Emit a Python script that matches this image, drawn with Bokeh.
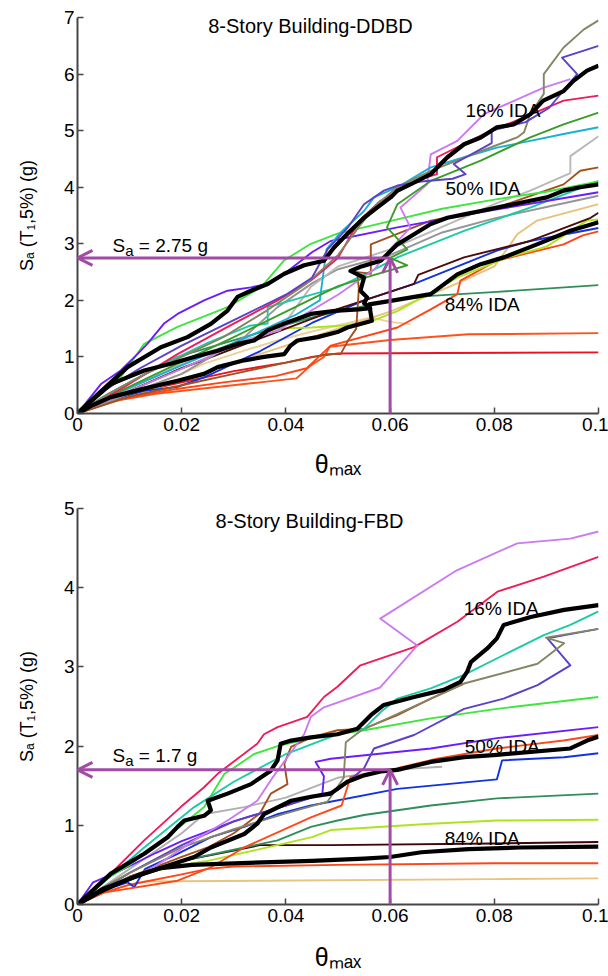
from bokeh.plotting import figure
from bokeh.models import Range1d, FixedTicker, CustomJSTickFormatter, Label, Arrow, OpenHead
from bokeh.layouts import column
from bokeh.embed import file_html
from bokeh.resources import INLINE

# ------------------------------------------------------------------ data
x_ticks = [0, 0.02, 0.04, 0.06, 0.08, 0.1]
ddbd_y_ticks = [0, 1, 2, 3, 4, 5, 6, 7]
fbd_y_ticks = [0, 1, 2, 3, 4, 5]
theta_target = 0.06
ddbd_sa_target = 2.75
fbd_sa_target = 1.7

# ---- 8-Story DDBD: individual IDA curves (theta_max, Sa)
ddbd_olive_x = [0, 0.006, 0.012, 0.02, 0.028, 0.036, 0.044, 0.05, 0.054, 0.0575, 0.0614, 0.0678, 0.0774, 0.0844, 0.0857, 0.0869, 0.0895, 0.0895, 0.0933, 0.0972, 0.1]
ddbd_olive_y = [0, 0.35, 0.65, 1.0, 1.35, 1.8, 2.3, 2.8, 3.3, 3.7, 4.0, 4.29, 4.64, 4.88, 4.97, 5.29, 5.65, 6.0, 6.47, 6.79, 6.95]
ddbd_slate_x = [0, 0.005, 0.012, 0.02, 0.03, 0.04, 0.045, 0.048, 0.052, 0.055, 0.0588, 0.0614, 0.066, 0.072, 0.0745, 0.0722, 0.0795, 0.0795, 0.086, 0.0905, 0.0959, 0.093, 0.1]
ddbd_slate_y = [0, 0.4, 0.8, 1.2, 1.65, 2.1, 2.4, 2.9, 3.3, 3.7, 3.94, 4.03, 4.1, 4.15, 4.23, 4.41, 4.78, 5.0, 5.15, 5.4, 6.0, 6.29, 6.5]
ddbd_crimson_x = [0, 0.004, 0.009, 0.0192, 0.0288, 0.0384, 0.0448, 0.05, 0.054, 0.058, 0.062, 0.066, 0.069, 0.069, 0.078, 0.0933, 0.1]
ddbd_crimson_y = [0, 0.2, 0.47, 1.05, 1.53, 2.0, 2.35, 2.75, 3.4, 3.75, 3.95, 4.15, 4.23, 4.53, 4.94, 5.53, 5.62]
ddbd_dkgreen_x = [0, 0.006, 0.014, 0.022, 0.03, 0.04, 0.05, 0.057, 0.0633, 0.06, 0.0633, 0.0594, 0.0614, 0.0678, 0.0774, 0.0869, 0.0933, 0.1]
ddbd_dkgreen_y = [0, 0.3, 0.65, 1.0, 1.35, 1.8, 2.25, 2.45, 2.62, 2.75, 2.9, 3.29, 3.7, 4.11, 4.47, 4.88, 5.11, 5.32]
ddbd_cyan_x = [0, 0.006, 0.015, 0.025, 0.035, 0.042, 0.0465, 0.0478, 0.0505, 0.055, 0.0569, 0.0614, 0.0678, 0.0742, 0.0805, 0.0869, 0.0933, 0.1]
ddbd_cyan_y = [0, 0.3, 0.65, 1.05, 1.45, 1.75, 2.0, 2.9, 3.2, 3.58, 3.82, 4.0, 4.35, 4.53, 4.7, 4.82, 4.94, 5.06]
ddbd_ltgrey_x = [0, 0.008, 0.016, 0.024, 0.032, 0.0388, 0.0447, 0.05, 0.06, 0.07, 0.08, 0.0869, 0.0946, 0.0946, 0.1]
ddbd_ltgrey_y = [0, 0.35, 0.7, 1.05, 1.3, 1.47, 2.23, 2.6, 2.9, 3.3, 3.7, 3.94, 4.25, 4.55, 4.9]
ddbd_brown_x = [0, 0.01, 0.02, 0.03, 0.04, 0.048, 0.0505, 0.052, 0.0535, 0.054, 0.0537, 0.0563, 0.0563, 0.0678, 0.0805, 0.0933, 0.0965, 0.1]
ddbd_brown_y = [0, 0.3, 0.5, 0.7, 0.9, 1.05, 1.05, 1.3, 1.5, 2.2, 2.5, 2.47, 2.99, 3.41, 3.64, 4.05, 4.29, 4.35]
ddbd_teal_x = [0, 0.008, 0.016, 0.025, 0.033, 0.0365, 0.0365, 0.0499, 0.055, 0.0614, 0.0742, 0.0869, 0.1]
ddbd_teal_y = [0, 0.45, 0.85, 1.25, 1.55, 1.59, 1.88, 2.23, 2.45, 2.76, 3.23, 3.64, 4.11]
ddbd_green_x = [0, 0.004, 0.0083, 0.0128, 0.0192, 0.0288, 0.0352, 0.0397, 0.0448, 0.0499, 0.06, 0.07, 0.08, 0.09, 0.1]
ddbd_green_y = [0, 0.35, 0.64, 1.23, 1.53, 1.88, 2.23, 2.71, 3.0, 3.18, 3.4, 3.62, 3.78, 3.92, 4.1]
ddbd_violet_x = [0, 0.0045, 0.0083, 0.0115, 0.0134, 0.0166, 0.0192, 0.0243, 0.0288, 0.0333, 0.0365, 0.0397, 0.045, 0.0486, 0.0614, 0.08, 0.1]
ddbd_violet_y = [0, 0.52, 0.76, 1.05, 1.23, 1.59, 1.76, 2.0, 2.17, 2.23, 2.29, 2.47, 2.85, 3.05, 3.29, 3.6, 3.91]
ddbd_grey_x = [0, 0.01, 0.02, 0.0256, 0.032, 0.0384, 0.045, 0.05, 0.06, 0.07, 0.08, 0.09, 0.1]
ddbd_grey_y = [0, 0.35, 0.7, 1.0, 1.35, 1.88, 2.3, 2.55, 2.8, 3.2, 3.45, 3.65, 3.85]
ddbd_lilac_x = [0, 0.01, 0.0192, 0.03, 0.0384, 0.05, 0.057, 0.06, 0.0639, 0.062, 0.0671, 0.0678, 0.0729, 0.078, 0.0895, 0.0946]
ddbd_lilac_y = [0, 0.4, 0.76, 1.2, 1.47, 2.1, 2.55, 2.9, 3.29, 3.64, 4.05, 4.58, 4.82, 5.29, 5.76, 5.91]
ddbd_tan1_x = [0, 0.01, 0.02, 0.0243, 0.032, 0.0384, 0.045, 0.052, 0.0563, 0.06, 0.0639]
ddbd_tan1_y = [0, 0.35, 0.7, 0.88, 1.11, 1.29, 1.45, 1.6, 1.7, 1.62, 1.58]
ddbd_tan2_x = [0, 0.01, 0.02, 0.03, 0.04, 0.05, 0.06, 0.0729, 0.08, 0.0831, 0.0844, 0.0882, 0.1]
ddbd_tan2_y = [0, 0.3, 0.6, 0.9, 1.2, 1.5, 1.8, 2.3, 2.6, 2.99, 3.17, 3.41, 3.7]
ddbd_maroon_x = [0, 0.01, 0.02, 0.03, 0.04, 0.05, 0.06, 0.0646, 0.0654, 0.0742, 0.0869, 0.0985, 0.1]
ddbd_maroon_y = [0, 0.4, 0.8, 1.15, 1.5, 1.85, 2.15, 2.29, 2.45, 2.76, 3.05, 3.46, 3.55]
ddbd_lime_x = [0, 0.01, 0.02, 0.03, 0.038, 0.045, 0.055, 0.0614, 0.0729, 0.0825, 0.09, 0.0978, 0.1]
ddbd_lime_y = [0, 0.4, 0.8, 1.15, 1.5, 1.52, 1.58, 1.81, 2.4, 2.76, 2.95, 3.41, 3.43]
ddbd_blue_x = [0, 0.005, 0.0128, 0.0192, 0.0243, 0.035, 0.045, 0.055, 0.0646, 0.0805, 0.0869, 0.1]
ddbd_blue_y = [0, 0.2, 0.4, 0.47, 0.64, 1.1, 1.6, 2.0, 2.29, 2.88, 3.05, 3.28]
ddbd_orange2_x = [0, 0.008, 0.018, 0.028, 0.038, 0.044, 0.0486, 0.0614, 0.0678, 0.0729, 0.0735, 0.0805, 0.0933, 0.097, 0.1]
ddbd_orange2_y = [0, 0.25, 0.42, 0.55, 0.66, 0.8, 1.2, 1.52, 1.84, 2.11, 2.35, 2.7, 2.99, 3.15, 3.22]
ddbd_orange1_x = [0, 0.006, 0.015, 0.025, 0.035, 0.042, 0.0448, 0.0473, 0.0484, 0.06, 0.075, 0.1]
ddbd_orange1_y = [0, 0.2, 0.35, 0.45, 0.55, 0.62, 0.85, 1.0, 1.18, 1.3, 1.4, 1.42]
ddbd_seagreen_x = [0, 0.005, 0.012, 0.0192, 0.032, 0.045, 0.06, 0.0678, 0.0805, 0.1]
ddbd_seagreen_y = [0, 0.3, 0.65, 1.0, 1.35, 1.7, 2.0, 2.08, 2.15, 2.27]
ddbd_red_x = [0, 0.01, 0.02, 0.03, 0.04, 0.045, 0.05, 0.07, 0.1]
ddbd_red_y = [0, 0.35, 0.55, 0.75, 0.9, 1.0, 1.06, 1.07, 1.08]
# ---- DDBD fractile curves
ddbd_p16_x = [0, 0.004, 0.0096, 0.016, 0.0211, 0.0256, 0.0288, 0.0307, 0.0333, 0.0365, 0.0397, 0.0435, 0.0473, 0.0492, 0.0511, 0.0524, 0.055, 0.0575, 0.0601, 0.0614, 0.0639, 0.0678, 0.0697, 0.071, 0.0742, 0.0774, 0.0805, 0.0837, 0.0869, 0.0894, 0.0933, 0.0952, 0.0978, 0.1]
ddbd_p16_y = [0, 0.35, 0.82, 1.17, 1.35, 1.585, 1.82, 2.06, 2.17, 2.29, 2.47, 2.62, 2.7, 2.93, 3.11, 3.23, 3.46, 3.64, 3.82, 3.94, 4.05, 4.23, 4.41, 4.53, 4.76, 4.88, 5.06, 5.11, 5.29, 5.53, 5.7, 5.88, 6.06, 6.15]
ddbd_p50_x = [0, 0.003, 0.0064, 0.0128, 0.0179, 0.0224, 0.0269, 0.0307, 0.0339, 0.0365, 0.0397, 0.0448, 0.0499, 0.054, 0.0562, 0.055, 0.0556, 0.0543, 0.055, 0.0524, 0.0545, 0.0582, 0.0614, 0.0646, 0.0678, 0.071, 0.0742, 0.0774, 0.0805, 0.0837, 0.0869, 0.0901, 0.0933, 0.0965, 0.1]
ddbd_p50_y = [0, 0.25, 0.52, 0.76, 0.88, 1.0, 1.11, 1.23, 1.29, 1.47, 1.59, 1.76, 1.82, 1.84, 1.86, 1.95, 2.05, 2.17, 2.4, 2.52, 2.6, 2.7, 2.99, 3.17, 3.35, 3.46, 3.52, 3.58, 3.64, 3.7, 3.76, 3.82, 3.94, 4.0, 4.05]
ddbd_p84_x = [0, 0.003, 0.0064, 0.0128, 0.0192, 0.0243, 0.0269, 0.032, 0.0358, 0.0397, 0.0409, 0.0422, 0.0461, 0.0499, 0.0518, 0.055, 0.0565, 0.056, 0.0601, 0.0678, 0.0729, 0.0774, 0.0818, 0.0882, 0.0946, 0.1]
ddbd_p84_y = [0, 0.15, 0.29, 0.44, 0.58, 0.7, 0.82, 0.94, 1.0, 1.05, 1.2, 1.29, 1.35, 1.44, 1.52, 1.6, 1.64, 1.93, 1.99, 2.11, 2.46, 2.64, 2.76, 2.99, 3.23, 3.38]

# ---- 8-Story FBD: individual IDA curves
fbd_lilac_x = [0, 0.005, 0.0128, 0.0224, 0.0288, 0.0345, 0.0371, 0.0435, 0.0448, 0.0473, 0.0581, 0.0652, 0.0581, 0.0728, 0.0844, 0.0946, 0.1]
fbd_lilac_y = [0, 0.18, 0.39, 0.81, 1.06, 1.31, 1.57, 2.15, 2.37, 2.49, 2.74, 3.27, 3.61, 4.22, 4.56, 4.62, 4.71]
fbd_crimson_x = [0, 0.005, 0.0128, 0.0198, 0.0243, 0.0269, 0.0345, 0.0358, 0.0384, 0.0441, 0.0473, 0.0499, 0.0543, 0.0646, 0.0729, 0.0806, 0.0895, 0.1]
fbd_crimson_y = [0, 0.3, 0.81, 1.23, 1.48, 1.65, 2.03, 2.15, 2.24, 2.37, 2.62, 2.75, 3.02, 3.25, 3.57, 3.95, 4.14, 4.39]
fbd_teal_x = [0, 0.005, 0.0128, 0.0224, 0.03, 0.04, 0.05, 0.055, 0.0582, 0.0614, 0.0678, 0.0742, 0.0818, 0.0895, 0.0946, 0.1]
fbd_teal_y = [0, 0.28, 0.72, 1.23, 1.55, 1.9, 2.15, 2.22, 2.43, 2.6, 2.73, 2.9, 3.15, 3.4, 3.53, 3.7]
fbd_olive_x = [0, 0.005, 0.01, 0.02, 0.03, 0.04, 0.048, 0.0511, 0.0515, 0.0545, 0.0742, 0.0883, 0.0934, 0.0899, 0.1]
fbd_olive_y = [0, 0.22, 0.4, 0.72, 0.95, 1.15, 1.3, 1.6, 2.05, 2.2, 2.79, 3.04, 3.3, 3.37, 3.48]
fbd_slate_x = [0, 0.01, 0.02, 0.03, 0.04, 0.05, 0.055, 0.0569, 0.0646, 0.0742, 0.0818, 0.0883, 0.0946, 0.0902, 0.1]
fbd_slate_y = [0, 0.4, 0.75, 1.05, 1.25, 1.45, 1.72, 1.97, 2.14, 2.47, 2.6, 2.77, 3.02, 3.36, 3.48]
fbd_brown_x = [0, 0.01, 0.02, 0.025, 0.03, 0.035, 0.0371, 0.0403, 0.0397, 0.041, 0.0448, 0.0499, 0.055, 0.0614, 0.0678, 0.0742]
fbd_brown_y = [0, 0.35, 0.6, 0.72, 0.9, 1.15, 1.4, 1.52, 1.78, 1.99, 2.11, 2.2, 2.22, 2.39, 2.6, 2.79]
fbd_green_x = [0, 0.005, 0.01, 0.015, 0.02, 0.0243, 0.0282, 0.0301, 0.0339, 0.0384, 0.045, 0.055, 0.0678, 0.0805, 0.1]
fbd_green_y = [0, 0.3, 0.5, 0.75, 1.0, 1.23, 1.65, 1.73, 1.9, 2.0, 2.1, 2.2, 2.35, 2.47, 2.62]
fbd_violet_x = [0, 0.003, 0.008, 0.015, 0.02, 0.03, 0.04, 0.047, 0.0473, 0.0457, 0.0486, 0.0678, 0.0805, 0.1]
fbd_violet_y = [0, 0.28, 0.42, 0.65, 0.8, 1.05, 1.25, 1.4, 1.62, 1.8, 1.84, 1.97, 2.1, 2.24]
fbd_orange1_x = [0, 0.005, 0.0192, 0.0256, 0.032, 0.0448, 0.0507, 0.0524, 0.06, 0.069, 0.0805, 0.0933, 0.1]
fbd_orange1_y = [0, 0.15, 0.3, 0.47, 0.72, 1.1, 1.25, 1.61, 1.7, 1.84, 1.97, 2.07, 2.14]
fbd_blue_x = [0, 0.005, 0.0096, 0.0109, 0.013, 0.0192, 0.0256, 0.032, 0.0384, 0.0448, 0.0614, 0.0805, 0.0815, 0.0934, 0.1]
fbd_blue_y = [0, 0.18, 0.28, 0.22, 0.45, 0.64, 0.85, 0.98, 1.14, 1.25, 1.46, 1.58, 1.82, 1.86, 1.91]
fbd_seagreen_x = [0, 0.005, 0.01, 0.02, 0.032, 0.0384, 0.0448, 0.0499, 0.055, 0.0678, 0.0805, 0.1]
fbd_seagreen_y = [0, 0.2, 0.35, 0.55, 0.72, 0.81, 0.98, 1.06, 1.13, 1.25, 1.34, 1.4]
fbd_lime_x = [0, 0.005, 0.01, 0.02, 0.025, 0.035, 0.045, 0.0486, 0.0678, 0.0805, 0.1]
fbd_lime_y = [0, 0.22, 0.35, 0.5, 0.55, 0.7, 0.85, 0.94, 1.02, 1.06, 1.07]
fbd_maroon_x = [0, 0.005, 0.01, 0.02, 0.03, 0.035, 0.0486, 0.08, 0.1]
fbd_maroon_y = [0, 0.2, 0.35, 0.55, 0.68, 0.75, 0.75, 0.77, 0.79]
fbd_orange2_x = [0, 0.005, 0.01, 0.02, 0.025, 0.03, 0.05, 0.08, 0.1]
fbd_orange2_y = [0, 0.15, 0.25, 0.38, 0.45, 0.48, 0.5, 0.52, 0.52]
fbd_tan_x = [0, 0.005, 0.01, 0.013, 0.035, 0.08, 0.1]
fbd_tan_y = [0, 0.15, 0.25, 0.29, 0.3, 0.32, 0.33]
fbd_grey_x = [0, 0.01, 0.02, 0.0243, 0.032, 0.04, 0.0499, 0.055, 0.06, 0.07]
fbd_grey_y = [0, 0.45, 0.9, 1.14, 1.23, 1.35, 1.6, 1.65, 1.7, 1.74]
# ---- FBD fractile curves
fbd_p16_x = [0, 0.0064, 0.0128, 0.0173, 0.0192, 0.0205, 0.0243, 0.0256, 0.025, 0.0288, 0.0333, 0.0371, 0.0384, 0.039, 0.041, 0.0448, 0.0499, 0.0537, 0.0563, 0.0588, 0.0646, 0.0703, 0.0735, 0.0748, 0.0755, 0.0786, 0.0805, 0.0818, 0.087, 0.0934, 0.1]
fbd_p16_y = [0, 0.39, 0.64, 0.85, 0.98, 1.06, 1.12, 1.19, 1.31, 1.4, 1.52, 1.69, 1.82, 2.03, 2.07, 2.11, 2.15, 2.22, 2.39, 2.52, 2.62, 2.71, 2.81, 2.94, 3.06, 3.23, 3.36, 3.53, 3.63, 3.72, 3.78]
fbd_p50_x = [0, 0.005, 0.0128, 0.0224, 0.0256, 0.032, 0.0345, 0.0358, 0.041, 0.0448, 0.0486, 0.0518, 0.055, 0.0582, 0.0614, 0.0678, 0.0742, 0.0805, 0.0946, 0.0978, 0.1]
fbd_p50_y = [0, 0.2, 0.39, 0.6, 0.72, 0.89, 1.02, 1.14, 1.31, 1.36, 1.4, 1.55, 1.63, 1.68, 1.7, 1.8, 1.86, 1.89, 1.97, 2.07, 2.12]
fbd_p84_x = [0, 0.004, 0.008, 0.012, 0.016, 0.022, 0.03, 0.045, 0.055, 0.06, 0.066, 0.075, 0.085, 0.1]
fbd_p84_y = [0, 0.15, 0.27, 0.38, 0.46, 0.5, 0.52, 0.55, 0.58, 0.6, 0.66, 0.7, 0.72, 0.73]

# ------------------------------------------------------------------ styles
FONT = "Liberation Sans"
PURPLE = "#a24ba6"
AXIS_COLOR = "#464646"
FRAME_W, FRAME_H = 521, 396
X_MAX = 0.1
Y_LABEL = "S\u2090 (T\u2081,5%) (g)"
X_LABEL = "\u03b8\u2098\u2090\u2093"

ddbd_records = [
    (ddbd_red_x, ddbd_red_y, "#ec1024"),
    (ddbd_orange1_x, ddbd_orange1_y, "#ff5218"),
    (ddbd_seagreen_x, ddbd_seagreen_y, "#2f8f5a"),
    (ddbd_tan1_x, ddbd_tan1_y, "#ecd09a"),
    (ddbd_tan2_x, ddbd_tan2_y, "#e6c27c"),
    (ddbd_orange2_x, ddbd_orange2_y, "#ff4416"),
    (ddbd_blue_x, ddbd_blue_y, "#1232e2"),
    (ddbd_lime_x, ddbd_lime_y, "#aee41e"),
    (ddbd_maroon_x, ddbd_maroon_y, "#4c0c0c"),
    (ddbd_grey_x, ddbd_grey_y, "#959595"),
    (ddbd_ltgrey_x, ddbd_ltgrey_y, "#b8b8b8"),
    (ddbd_teal_x, ddbd_teal_y, "#1ccaa4"),
    (ddbd_brown_x, ddbd_brown_y, "#a4501e"),
    (ddbd_green_x, ddbd_green_y, "#3ee63e"),
    (ddbd_violet_x, ddbd_violet_y, "#6c1cff"),
    (ddbd_lilac_x, ddbd_lilac_y, "#cc7af0"),
    (ddbd_cyan_x, ddbd_cyan_y, "#18b0d4"),
    (ddbd_dkgreen_x, ddbd_dkgreen_y, "#3c9c28"),
    (ddbd_crimson_x, ddbd_crimson_y, "#ee1c58"),
    (ddbd_olive_x, ddbd_olive_y, "#858566"),
    (ddbd_slate_x, ddbd_slate_y, "#5b40c8"),
]
ddbd_fractiles = [(ddbd_p84_x, ddbd_p84_y), (ddbd_p50_x, ddbd_p50_y), (ddbd_p16_x, ddbd_p16_y)]

fbd_records = [
    (fbd_tan_x, fbd_tan_y, "#e8c47e"),
    (fbd_orange2_x, fbd_orange2_y, "#ff4416"),
    (fbd_maroon_x, fbd_maroon_y, "#3e0606"),
    (fbd_lime_x, fbd_lime_y, "#aee41e"),
    (fbd_seagreen_x, fbd_seagreen_y, "#2f8f5a"),
    (fbd_grey_x, fbd_grey_y, "#b0b0b0"),
    (fbd_blue_x, fbd_blue_y, "#1232e2"),
    (fbd_orange1_x, fbd_orange1_y, "#ff4a18"),
    (fbd_violet_x, fbd_violet_y, "#6c1cff"),
    (fbd_green_x, fbd_green_y, "#3ee63e"),
    (fbd_brown_x, fbd_brown_y, "#a4501e"),
    (fbd_slate_x, fbd_slate_y, "#5b40c8"),
    (fbd_olive_x, fbd_olive_y, "#858566"),
    (fbd_teal_x, fbd_teal_y, "#1ccaa4"),
    (fbd_crimson_x, fbd_crimson_y, "#ee1c58"),
    (fbd_lilac_x, fbd_lilac_y, "#cc7af0"),
]
fbd_fractiles = [(fbd_p84_x, fbd_p84_y), (fbd_p50_x, fbd_p50_y), (fbd_p16_x, fbd_p16_y)]


def px(ymax, fx, fy):
    """frame-relative pixel position (from frame top-left) -> data coords"""
    return fx / FRAME_W * X_MAX, ymax * (FRAME_H - fy) / FRAME_H


def add_label(p, ymax, fx, fy, text, size, align="left"):
    x, y = px(ymax, fx, fy)
    p.add_layout(Label(x=x, y=y, text=text, text_font=FONT, text_font_size=size,
                       text_color="black", text_align=align, text_baseline="alphabetic"))


def make_panel(height, top, bottom, ymax, yticks, records, fractiles, sa_target,
               title, title_pos, ida_pos, sa_pos, sa_text, x_label_standoff):
    p = figure(width=608, height=height, output_backend="svg", toolbar_location=None,
               x_range=Range1d(0, X_MAX), y_range=Range1d(0, ymax),
               min_border_left=77, min_border_right=10, min_border_top=top,
               min_border_bottom=bottom)
    p.outline_line_color = None
    p.grid.visible = False
    p.background_fill_color = "white"
    for ax in (p.xaxis[0], p.yaxis[0]):
        ax.axis_line_color = AXIS_COLOR
        ax.axis_line_width = 2
        ax.major_tick_line_color = AXIS_COLOR
        ax.major_tick_line_width = 1.5
        ax.major_tick_in = 6
        ax.major_tick_out = 0
        ax.minor_tick_line_color = None
        ax.major_label_text_font = FONT
        ax.major_label_text_font_size = "19px"
        ax.major_label_text_color = "black"
        ax.axis_label_text_font = FONT
        ax.axis_label_text_font_style = "normal"
        ax.axis_label_text_color = "black"
    p.xaxis.ticker = FixedTicker(ticks=x_ticks)
    p.xaxis.formatter = CustomJSTickFormatter(code="return tick.toString();")
    p.xaxis.major_label_standoff = 4
    p.xaxis.axis_label = X_LABEL
    p.xaxis.axis_label_text_font_size = "25px"
    p.xaxis.axis_label_standoff = x_label_standoff
    p.yaxis.ticker = FixedTicker(ticks=yticks)
    p.yaxis.major_label_standoff = 3
    p.yaxis.axis_label = Y_LABEL
    p.yaxis.axis_label_text_font_size = "18px"
    p.yaxis.axis_label_standoff = 24

    for xs, ys, c in records:
        p.line(xs, ys, line_color=c, line_width=1.9, line_join="round")
    for xs, ys in fractiles:
        p.line(xs, ys, line_color="black", line_width=4.2, line_join="round")

    p.add_layout(Arrow(end=OpenHead(line_color=PURPLE, line_width=3, size=15),
                       x_start=theta_target, y_start=sa_target, x_end=0, y_end=sa_target,
                       line_color=PURPLE, line_width=3))
    p.add_layout(Arrow(end=OpenHead(line_color=PURPLE, line_width=3, size=15),
                       x_start=theta_target, y_start=0, x_end=theta_target, y_end=sa_target,
                       line_color=PURPLE, line_width=3))

    add_label(p, ymax, title_pos[0], title_pos[1], title, "20px", align="center")
    for (fx, fy), t in zip(ida_pos, ["16% IDA", "50% IDA", "84% IDA"]):
        add_label(p, ymax, fx, fy, t, "19px")
    # S_a = ... g
    sx, sy = sa_pos
    add_label(p, ymax, sx, sy, "S", "19px")
    add_label(p, ymax, sx + 12.67, sy + 5, "a", "15px")
    add_label(p, ymax, sx + 26.3, sy, "= " + sa_text + " g", "19px")
    return p


p1 = make_panel(490, 17, 77, 7, ddbd_y_ticks, ddbd_records, ddbd_fractiles, ddbd_sa_target,
                "8-Story Building-DDBD", (233, 8),
                [(388, 93.3), (368, 170.7), (367.3, 287.3)],
                (35, 228), "2.75", 16)
p2 = make_panel(486, 18, 72, 5, fbd_y_ticks, fbd_records, fbd_fractiles, fbd_sa_target,
                "8-Story Building-FBD", (232, 12),
                [(386.3, 100), (387.3, 238.3), (367.3, 330)],
                (35, 247), "1.7", 18)

layout = column(p1, p2)
open("out.html", "w").write(file_html(layout, INLINE))
